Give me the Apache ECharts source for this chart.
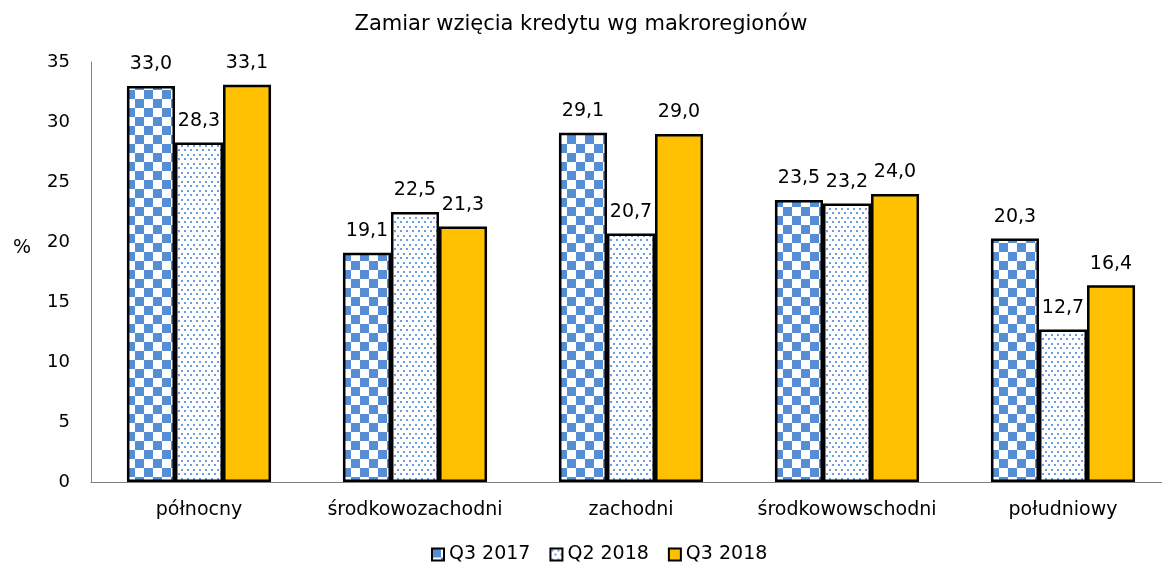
<!DOCTYPE html>
<html>
<head>
<meta charset="utf-8">
<script src="https://cdn.jsdelivr.net/npm/echarts@6/dist/echarts.min.js"></script>
<style>
  html, body { margin: 0; padding: 0; background: #fff; }
  #chart { width: 1162px; height: 573px; }
</style>
</head>
<body>
<div id="chart"></div>
<script>
// Regions and survey waves
var categories = ['północny', 'środkowozachodni', 'zachodni', 'środkowowschodni', 'południowy'];
var seriesNames = ['Q3 2017', 'Q2 2018', 'Q3 2018'];
var q3_2017 = [33.0, 19.1, 29.1, 23.5, 20.3];
var q2_2018 = [28.3, 22.5, 20.7, 23.2, 12.7];
var q3_2018 = [33.1, 21.3, 29.0, 24.0, 16.4];
var yTicks = [0, 5, 10, 15, 20, 25, 30, 35];

var FONT = '"DejaVu Sans", Verdana, sans-serif';

// Blue/white checkerboard fill
function checkerPattern() {
  var s = 9;
  var c = document.createElement('canvas');
  c.width = 2 * s; c.height = 2 * s;
  var g = c.getContext('2d');
  g.fillStyle = '#ffffff';
  g.fillRect(0, 0, 2 * s, 2 * s);
  g.fillStyle = '#558ed5';
  g.fillRect(0, 0, s, s);
  g.fillRect(s, s, s, s);
  return c;
}

// Staggered small blue dots on white
function dotPattern() {
  var c = document.createElement('canvas');
  c.width = 12; c.height = 9;
  var g = c.getContext('2d');
  g.fillStyle = '#ffffff';
  g.fillRect(0, 0, 12, 9);
  g.fillStyle = '#6b9ee0';
  g.fillRect(1, 1, 2, 2);
  g.fillRect(7, 1, 2, 2);
  g.fillRect(4, 5, 2, 2);
  g.fillRect(10, 5, 2, 2);
  return c;
}

var fills = [
  { image: checkerPattern(), repeat: 'repeat' },
  { image: dotPattern(), repeat: 'repeat' },
  '#ffc000'
];
var values = [q3_2017, q2_2018, q3_2018];

function fmt(v) { return v.toFixed(1).replace('.', ','); }

var chart = echarts.init(document.getElementById('chart'), null, { renderer: 'canvas' });

chart.setOption({
  animation: false,
  backgroundColor: '#ffffff',
  title: {
    text: 'Zamiar wzięcia kredytu wg makroregionów',
    left: 'center',
    top: 9,
    textStyle: { fontFamily: FONT, fontSize: 21, fontWeight: 'normal', color: '#000' }
  },
  legend: {
    bottom: 4,
    left: 426,
    icon: 'rect',
    itemWidth: 12,
    itemHeight: 12,
    itemGap: 19,
    textStyle: { fontFamily: FONT, fontSize: 19, color: '#000' },
    data: seriesNames
  },
  graphic: [{
    type: 'text',
    left: 13,
    top: 239,
    style: { text: '%', font: '19px ' + FONT, fill: '#000' }
  }],
  grid: { left: 91, top: 62, width: 1080, height: 420, containLabel: false, outerBoundsMode: 'none' },
  xAxis: {
    type: 'category',
    data: categories,
    axisLine: { show: true, lineStyle: { color: '#808080', width: 1 } },
    axisTick: { show: false },
    axisLabel: { interval: 0, fontFamily: FONT, fontSize: 19, color: '#000', margin: 19 }
  },
  yAxis: {
    type: 'value',
    min: 0,
    max: 35,
    interval: 5,
    axisLine: { show: true, lineStyle: { color: '#808080', width: 1 } },
    axisTick: { show: false },
    splitLine: { show: false },
    axisLabel: {
      fontFamily: FONT, fontSize: 18, color: '#000', margin: 21,
      formatter: function (v) { return yTicks.indexOf(v) >= 0 ? String(v) : ''; }
    }
  },
  series: seriesNames.map(function (name, i) {
    return {
      name: name,
      type: 'bar',
      data: values[i],
      barGap: '0%',
      barCategoryGap: '33.3%',
      itemStyle: { color: fills[i], borderColor: '#000', borderWidth: 2.5 },
      label: {
        show: true,
        position: 'top',
        distance: 12,
        fontFamily: FONT,
        fontSize: 19,
        color: '#000',
        formatter: function (p) { return fmt(p.value); }
      }
    };
  })
});
</script>
</body>
</html>
